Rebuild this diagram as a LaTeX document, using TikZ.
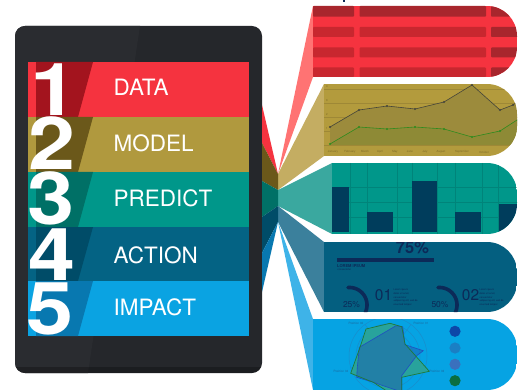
\documentclass[tikz,border=0pt]{standalone}
\usepackage{fontspec}
\setmainfont{TeX Gyre Heros}
\definecolor{frameA}{HTML}{25272B}
\definecolor{frameL}{HTML}{2A2C30}
\definecolor{redA}{HTML}{F5333F}
\definecolor{redB}{HTML}{A3141E}
\definecolor{olvA}{HTML}{B0993E}
\definecolor{olvB}{HTML}{6B581A}
\definecolor{tealA}{HTML}{00978A}
\definecolor{tealB}{HTML}{007066}
\definecolor{navA}{HTML}{046384}
\definecolor{navB}{HTML}{004C68}
\definecolor{bluA}{HTML}{0AA3E2}
\definecolor{bluB}{HTML}{0878B0}
\definecolor{pinkL}{HTML}{FF7373}
\definecolor{olvL}{HTML}{C4AD62}
\definecolor{tealL}{HTML}{3AA89F}
\definecolor{navL}{HTML}{3B809C}
\definecolor{bluL}{HTML}{3EB3E8}
\definecolor{redP}{HTML}{F5333F}
\definecolor{redS1}{HTML}{A8262D}
\definecolor{redS2}{HTML}{C8272F}
\definecolor{olvP}{HTML}{B39B3D}
\definecolor{olvGrid}{HTML}{9E8836}
\definecolor{olvArea}{HTML}{9C8B3C}
\definecolor{olvArea2}{HTML}{8E8A36}
\definecolor{olvTxt}{HTML}{7D6B28}
\definecolor{lineDark}{HTML}{45453A}
\definecolor{lineGreen}{HTML}{2E8B1E}
\definecolor{tealP}{HTML}{00978A}
\definecolor{tealGrid}{HTML}{00847A}
\definecolor{barNavy}{HTML}{003D5C}
\definecolor{navP}{HTML}{045F80}
\definecolor{inkNavy}{HTML}{0C2A58}
\definecolor{bluP}{HTML}{06A3E3}
\definecolor{radarGrid}{HTML}{1A8CCB}
\definecolor{radarTxt}{HTML}{1A6AA0}
\definecolor{polyG}{HTML}{28A39C}
\definecolor{polyGline}{HTML}{1E7A3A}
\definecolor{polyB}{HTML}{1D5FB0}
\definecolor{polyBline}{HTML}{1F4FC0}
\definecolor{dotA}{HTML}{0D47A8}
\definecolor{dotB}{HTML}{1A7FC4}
\definecolor{dotC}{HTML}{3A70BD}
\definecolor{dotD}{HTML}{0A6E40}
\newcommand{\panelclip}[4]{%
  \clip (#1,#2) rectangle (524,#3);
  \clip[rounded corners=30pt] (#1-40,#2) rectangle (517,#3);
  \fill[#4] (#1,#2) rectangle (517,#3);}
\tikzset{
  bandlabel/.style={text=white, anchor=west, inner sep=0pt, font=\fontsize{22.5}{22.5}\selectfont},
  bandnum/.style={text=white, anchor=base, inner sep=0pt, text height=48pt, text depth=0pt, font=\fontsize{73}{73}\selectfont\bfseries},
  monthlbl/.style={text=olvTxt, inner sep=0pt, font=\fontsize{2.8}{2.8}\selectfont},
  radarlbl/.style={text=radarTxt, inner sep=0pt, font=\fontsize{3}{3}\selectfont},
  lorem/.style={text=inkNavy, inner sep=0pt, anchor=north west, align=left, font=\fontsize{2.5}{3.8}\selectfont},
  donut/.style={draw=inkNavy, line width=3.6pt, line cap=round},
}
\begin{document}
\begin{tikzpicture}[x=1pt,y=-1pt]
\useasboundingbox (0,0) rectangle (524,390);
\fill[white] (0,0) rectangle (524,390);

% ---------- fan (light part) ----------
\coordinate (sA) at (278,174);
\coordinate (sB) at (278,190);
\coordinate (sC) at (278,206);
\coordinate (sD) at (278,222);
\fill[pinkL] (sA) -- (313,6) -- (313,77) -- cycle;
\fill[olvL] (sA) -- (324,84) -- (324,156) -- (sB) -- cycle;
\fill[tealL] (sB) -- (332,163) -- (332,234) -- (sC) -- cycle;
\fill[navL] (sC) -- (324,242) -- (324,312) -- (sD) -- cycle;
\fill[bluL] (sD) -- (313,319) -- (313,390) -- cycle;

% tiny mark at top
\fill[inkNavy] (342.5,0) rectangle (345,1.6);

% ---------- panel 1: stripes ----------
\begin{scope}
\panelclip{313}{6}{77}{redP}
\foreach \ya/\yb/\c in {6/16.7/redS1, 27/37/redS2, 47.5/57.3/redS2, 67.5/77/redS2}{
  \fill[\c, rounded corners=0.8pt] (313,\ya) rectangle (354,\yb);
  \fill[\c, rounded corners=0.8pt] (359.5,\ya) rectangle (486,\yb);
  \fill[redS1, rounded corners=0.8pt] (491,\ya) rectangle (525,\yb);
}
\end{scope}

% ---------- panel 2: line chart ----------
\begin{scope}
\panelclip{324}{84}{156}{olvP}
\foreach \gy in {89,103,117,131,145} \draw[olvGrid, line width=0.5pt] (324,\gy) -- (520,\gy);
\foreach \gy/\gl in {89/4,103/3,117/2,131/1} \node[monthlbl] (yl\gl) at (327,\gy-2) {\gl};
\fill[olvArea] (330,127) -- (359,110) -- (387,106) -- (415,109) -- (444,102) -- (472,85) -- (500,110) -- (513,105) -- (520,100) -- (520,145) -- (330,145) -- cycle;
\fill[olvArea2] (330,144) -- (359,127) -- (387,129) -- (415,127) -- (444,129) -- (472,137) -- (500,131) -- (517,120) -- (520,117) -- (520,145) -- (330,145) -- cycle;
\draw[lineDark, line width=0.6pt] (330,127) -- (359,110) -- (387,106) -- (415,109) -- (444,102) -- (472,85) -- (500,110) -- (513,105) -- (520,100);
\draw[lineGreen, line width=0.6pt] (330,144) -- (359,127) -- (387,129) -- (415,127) -- (444,129) -- (472,137) -- (500,131) -- (517,120) -- (520,117);
\foreach \px/\py in {330/127,359/110,387/106,415/109,444/102,472/85,500/110,513/105}
  \fill[lineDark] (\px,\py) circle[radius=1.2];
\foreach \px/\py in {330/144,359/127,387/129,415/127,444/129,472/137,500/131}
  \fill[lineGreen] (\px,\py) circle[radius=1.2];
\foreach \mx/\mn in {333/January,350/February,365/March,380/April,395/May,410/June,425/July,441/August,462/September,484/October}
  \node[monthlbl] (m\mn) at (\mx,152) {\mn};
\end{scope}

% ---------- panel 3: bar chart ----------
\begin{scope}
\panelclip{332}{163}{234}{tealP}
\foreach \gx in {350,367,397,412,437,455,482,498} \draw[tealGrid, line width=0.6pt] (\gx,163) -- (\gx,234);
\foreach \gy in {187,202,217} \draw[tealGrid, line width=0.6pt] (332,\gy) -- (520,\gy);
\fill[barNavy] (332,187) rectangle (349,232);
\fill[barNavy] (367,212) rectangle (393,232);
\fill[barNavy] (412,181) rectangle (437,232);
\fill[barNavy] (455,212) rectangle (481,232);
\fill[barNavy] (499,204) rectangle (522,232);
\end{scope}

% ---------- panel 4: infographic ----------
\begin{scope}
\panelclip{324}{242}{312}{navP}
\node[text=inkNavy, inner sep=0pt, font=\fontsize{16.5}{16.5}\selectfont\bfseries] (pct) at (412.5,247.5) {75\%};
\fill[inkNavy] (337,258) rectangle (434,261.5);
\node[text=inkNavy, inner sep=0pt, anchor=west, font=\fontsize{4}{4}\selectfont\bfseries] (lorhead) at (337,266) {LOREM IPSUM};
\node[text=inkNavy, inner sep=0pt, anchor=west, font=\fontsize{2.6}{2.6}\selectfont] (lorsub) at (337.5,269.5) {consectetur};
\draw[donut] plot[domain=-95:25, samples=40] ({349.5+17.5*cos(\x)},{305+17.5*sin(\x)});
\draw[donut] plot[domain=-95:25, samples=40] ({439.5+17.5*cos(\x)},{305+17.5*sin(\x)});
\node[text=inkNavy, inner sep=0pt, font=\fontsize{8.5}{8.5}\selectfont] (p25) at (351.5,305) {25\%};
\node[text=inkNavy, inner sep=0pt, font=\fontsize{8.5}{8.5}\selectfont] (p50) at (440,305) {50\%};
\node[text=inkNavy, inner sep=0pt, font=\fontsize{15.5}{15.5}\selectfont] (n01) at (383.5,295.5) {01};
\node[text=inkNavy, inner sep=0pt, font=\fontsize{15.5}{15.5}\selectfont] (n02) at (470.5,295.5) {02};
\node[lorem] (lor1) at (393.5,288.5) {Lorem ipsum\\dolor sit amet,\\consectetur\\adipiscing elit, sed do\\eiusmod tempor};
\node[lorem] (lor2) at (479.5,288.5) {Lorem ipsum\\dolor sit amet,\\consectetur\\adipiscing elit, sed do\\eiusmod tempor};
\end{scope}

% ---------- panel 5: radar ----------
\begin{scope}
\panelclip{313}{319}{390}{bluP}
\coordinate (rc) at (388,356);
\foreach \r in {39,32,25,18,11,5} \draw[radarGrid, line width=0.5pt] (rc) circle[radius=\r];
\foreach \a in {90,18,-54,-126,162} \draw[radarGrid, line width=0.5pt] (rc) -- ++(\a:39);
\fill[polyG] (366,329) -- (390,323.3) -- (401.7,326.7) -- (405,344) -- (429.3,371.3) -- (401.7,377.3) -- (401.7,392) -- (388.3,392) -- (373.3,382.3) -- (350.7,373.3) -- (360,347.3) -- cycle;
\fill[polyB, opacity=0.5] (359.3,347.3) -- (396,325.7) -- (402.7,326.7) -- (405,344.7) -- (423.3,350.7) -- (416.7,355.7) -- (401.7,375.7) -- (401.7,392) -- (373.3,382.3) -- (356.7,377.3) -- (357.3,367.3) -- cycle;
\draw[polyBline, line width=0.6pt] (359.3,347.3) -- (396,325.7) -- (402.7,326.7) -- (405,344.7) -- (423.3,350.7) -- (416.7,355.7) -- (401.7,375.7) -- (401.7,392) -- (373.3,382.3) -- (356.7,377.3) -- (357.3,367.3) -- cycle;
\draw[polyGline, line width=0.7pt] (366,329) -- (390,323.3) -- (401.7,326.7) -- (405,344) -- (429.3,371.3) -- (401.7,377.3) -- (401.7,392) -- (388.3,392) -- (373.3,382.3) -- (350.7,373.3) -- (360,347.3) -- cycle;
\node[radarlbl] (pos2) at (356,323) {Position 02};
\node[radarlbl] (pos1) at (421,323) {Position 01};
\node[radarlbl] (pos4) at (341,371) {Position 04};
\node[radarlbl] (pos3) at (437,371.5) {Position 03};
\fill[dotA] (455,331.3) circle[radius=5.6];
\fill[dotB] (455,348) circle[radius=5.6];
\fill[dotC] (455,364.3) circle[radius=5.6];
\fill[dotD] (455,380.7) circle[radius=5.6];
\end{scope}

% ---------- tablet ----------
\fill[frameA, rounded corners=10pt] (15,26) rectangle (262,373);
\begin{scope}
\clip[rounded corners=10pt] (15,26) rectangle (262,373);
\fill[frameL] (15,26) -- (140,26) -- (88,373) -- (15,373) -- cycle;
\fill[black, opacity=0.25] (15,367) rectangle (262,373);
\end{scope}

% dark fan part
\fill[redA] (262,105) -- (sA) -- (262,143) -- cycle;
\fill[olvB] (262,143) -- (sA) -- (sB) -- (262,181) -- cycle;
\fill[tealB] (262,181) -- (sB) -- (sC) -- (262,217) -- cycle;
\fill[navB] (262,217) -- (sC) -- (sD) -- (262,253) -- cycle;
\fill[bluB] (262,253) -- (sD) -- (262,292) -- cycle;

% bands
\foreach \t/\b/\ca/\cb in {62/117/redA/redB, 117/172/olvA/olvB, 172/227/tealA/tealB, 227/281/navA/navB, 281/336/bluA/bluB}{
  \fill[\ca] (28,\t) rectangle (249,\b);
  \fill[\cb] (36,\t) -- (93,\t) -- (78,\b) -- (36,\b) -- cycle;
}
% digits
\node[bandnum] (d1) at (54.0,116) {\scalebox{1.16}[1]{1}};
\node[bandnum] (d2) at (51.8,170) {\scalebox{1.16}[1]{2}};
\node[bandnum] (d3) at (51.5,224.5) {\scalebox{1.16}[1]{3}};
\node[bandnum] (d4) at (51.6,280) {\scalebox{1.16}[1]{4}};
\node[bandnum] (d5) at (50.5,334.5) {\scalebox{1.16}[1]{5}};
% labels
\node[bandlabel] (l1) at (113.5,87) {DATA};
\node[bandlabel] (l2) at (113.5,143) {MODEL};
\node[bandlabel] (l3) at (113.5,198) {PREDICT};
\node[bandlabel] (l4) at (113.5,255) {ACTION};
\node[bandlabel] (l5) at (113.5,307) {IMPACT};
\end{tikzpicture}
\end{document}
